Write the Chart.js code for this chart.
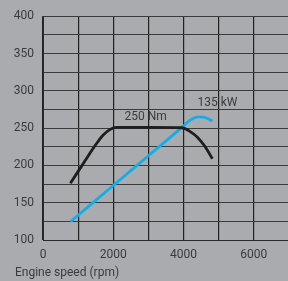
<!DOCTYPE html>
<html>
<head>
<meta charset="utf-8">
<script src="https://cdn.jsdelivr.net/npm/chart.js@4"></script>
<style>
  html, body { margin: 0; padding: 0; background: #a9abae; overflow: hidden; }
  #wrap { position: relative; width: 297px; height: 281px; }
</style>
</head>
<body>
<div id="wrap"><canvas id="engineChart"></canvas></div>
<script>
// Torque (Nm) and power (kW) vs engine speed
const torqueRpm = [780, 1000, 1200, 1400, 1550, 1700, 1900, 2100, 3000, 3950, 4200, 4400, 4600, 4820];
const torqueNm  = [176, 192, 206.5, 221, 231, 240, 248, 251, 251, 250.5, 245, 237.5, 226, 209];

const powerRpm = [780, 2000, 3000, 4000, 4150, 4300, 4450, 4650, 4820];
const powerKw  = [124.5, 173, 213, 253, 259.5, 263.5, 265, 263.5, 259.5];

const xTickLabels = [0, 2000, 4000, 6000];
const yTickLabels = [100, 150, 200, 250, 300, 350, 400];

const annotations = [
  { text: '250 Nm', x: 2320, y: 265.5 },
  { text: '135 kW', x: 4396, y: 283.6 }
];

const textColor = '#3a3b3d';
const font = { family: 'Roboto', size: 12 };

const labelPlugin = {
  id: 'labels',
  afterDraw(chart) {
    const { ctx, scales } = chart;
    ctx.save();
    ctx.fillStyle = textColor;
    ctx.font = '12px Roboto';
    ctx.textAlign = 'left';
    ctx.textBaseline = 'middle';
    annotations.forEach(a => {
      ctx.fillText(a.text, scales.x.getPixelForValue(a.x), scales.y.getPixelForValue(a.y));
    });
    ctx.fillText('Engine speed (rpm)', 15, 273);
    ctx.restore();
  }
};

new Chart(document.getElementById('engineChart'), {
  type: 'line',
  data: {
    datasets: [
      {
        label: 'Torque',
        data: torqueRpm.map((r, i) => ({ x: r, y: torqueNm[i] })),
        borderColor: '#1f1d1e',
        borderWidth: 2.8,
        pointRadius: 0,
        cubicInterpolationMode: 'monotone',
        fill: false
      },
      {
        label: 'Power',
        data: powerRpm.map((r, i) => ({ x: r, y: powerKw[i] })),
        borderColor: '#13aee8',
        borderWidth: 2.8,
        pointRadius: 0,
        cubicInterpolationMode: 'monotone',
        fill: false
      }
    ]
  },
  options: {
    responsive: true,
    maintainAspectRatio: false,
    animation: false,
    layout: { padding: { top: 14, right: 0, left: 0, bottom: 0 } },
    plugins: {
      legend: { display: false },
      tooltip: { enabled: false }
    },
    scales: {
      x: {
        type: 'linear',
        min: 0,
        max: 7000,
        grid: { color: '#222222', lineWidth: 1.2, drawTicks: false },
        border: { color: '#2a2a2a', width: 1 },
        ticks: {
          stepSize: 1000,
          padding: 8,
          color: textColor,
          font,
          maxRotation: 0,
          autoSkip: false,
          callback: v => xTickLabels.includes(v) ? v : ''
        },
        afterFit: s => { s.height = 41; }
      },
      y: {
        min: 100,
        max: 400,
        grid: { color: '#3a3a3a', lineWidth: 1, drawTicks: false },
        border: { color: '#2a2a2a', width: 1 },
        ticks: {
          stepSize: 25,
          padding: 9,
          color: textColor,
          font,
          autoSkip: false,
          callback: v => yTickLabels.includes(v) ? v : ''
        },
        afterFit: s => { s.width = 43; }
      }
    }
  },
  plugins: [labelPlugin]
});
</script>
</body>
</html>
